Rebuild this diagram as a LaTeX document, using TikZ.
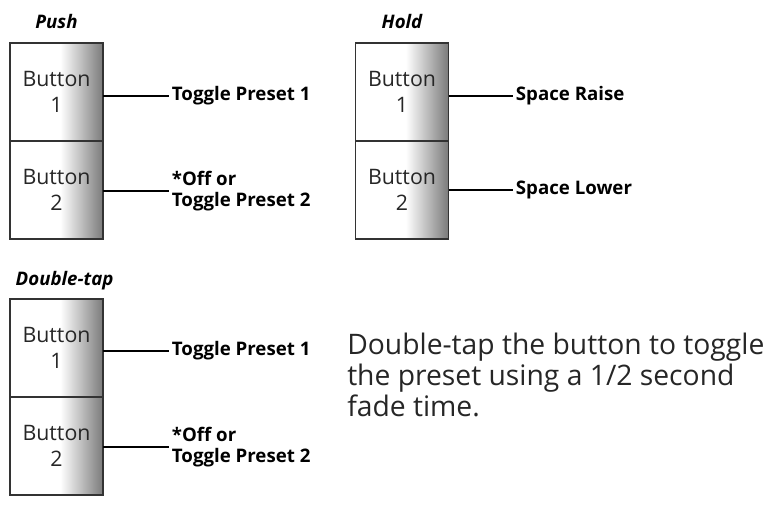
\documentclass[tikz,border=0pt]{standalone}
\usepackage{fontspec}
\setmainfont{Open Sans}
\usetikzlibrary{positioning}

\pgfdeclarehorizontalshading{btnshade}{100bp}{color(0bp)=(white); color(25bp)=(white);
  color(52bp)=(white); color(75bp)=(black!52); color(100bp)=(black!52)}

\begin{document}
\begin{tikzpicture}[x=0.75pt,y=-0.75pt,
    btn/.style={draw=black!80,line width=1pt,shading=btnshade,
      minimum width=69.75pt,minimum height=73.5pt,inner sep=0pt,outer sep=0pt,
      align=center,text=black!85,font=\fontsize{16}{20}\selectfont},
    lbl/.style={anchor=west,inner xsep=2pt,inner ysep=0pt,align=left,
      font=\bfseries\fontsize{14}{16}\selectfont},
    ttl/.style={anchor=base,font=\bfseries\itshape\fontsize{14}{16}\selectfont},
    link/.style={line width=1.5pt}]
  \useasboundingbox (0,0) rectangle (769,507);

  % push
  \node[ttl] (push) at (56.5,28) {Push};
  \node[btn] (pb1) at (56.5,92) {Button\\1};
  \node[btn,below=0pt of pb1] (pb2) {Button\\2};
  \node[lbl] (pl1) at (169,96) {Toggle Preset 1};
  \node[lbl] (pl2) at (169,191) {*Off or\\Toggle Preset 2};
  \draw[link] (pl1.west -| pb1.east) -- (pl1.west);
  \draw[link] (pl2.west -| pb2.east) -- (pl2.west);

  % hold
  \node[ttl] (hold) at (402,28) {Hold};
  \node[btn] (hb1) at (402,92) {Button\\1};
  \node[btn,below=0pt of hb1] (hb2) {Button\\2};
  \node[lbl] (hl1) at (513,96) {Space Raise};
  \node[lbl] (hl2) at (513,190) {Space Lower};
  \draw[link] (hl1.west -| hb1.east) -- (hl1.west);
  \draw[link] (hl2.west -| hb2.east) -- (hl2.west);

  % double-tap
  \node[ttl,anchor=base west] (dbl) at (11,285) {Double-tap};
  \node[btn] (db1) at (56.5,348) {Button\\1};
  \node[btn,below=0pt of db1] (db2) {Button\\2};
  \node[lbl] (dl1) at (169,351) {Toggle Preset 1};
  \node[lbl] (dl2) at (169,447) {*Off or\\Toggle Preset 2};
  \draw[link] (dl1.west -| db1.east) -- (dl1.west);
  \draw[link] (dl2.west -| db2.east) -- (dl2.west);

  \node[anchor=north west,inner sep=0pt,align=left,text=black!85,
    font=\fontsize{21.2}{23.3}\selectfont] (note) at (347,333)
    {Double-tap the button to toggle\\the preset using a 1/2 second\\fade time.};
\end{tikzpicture}
\end{document}
